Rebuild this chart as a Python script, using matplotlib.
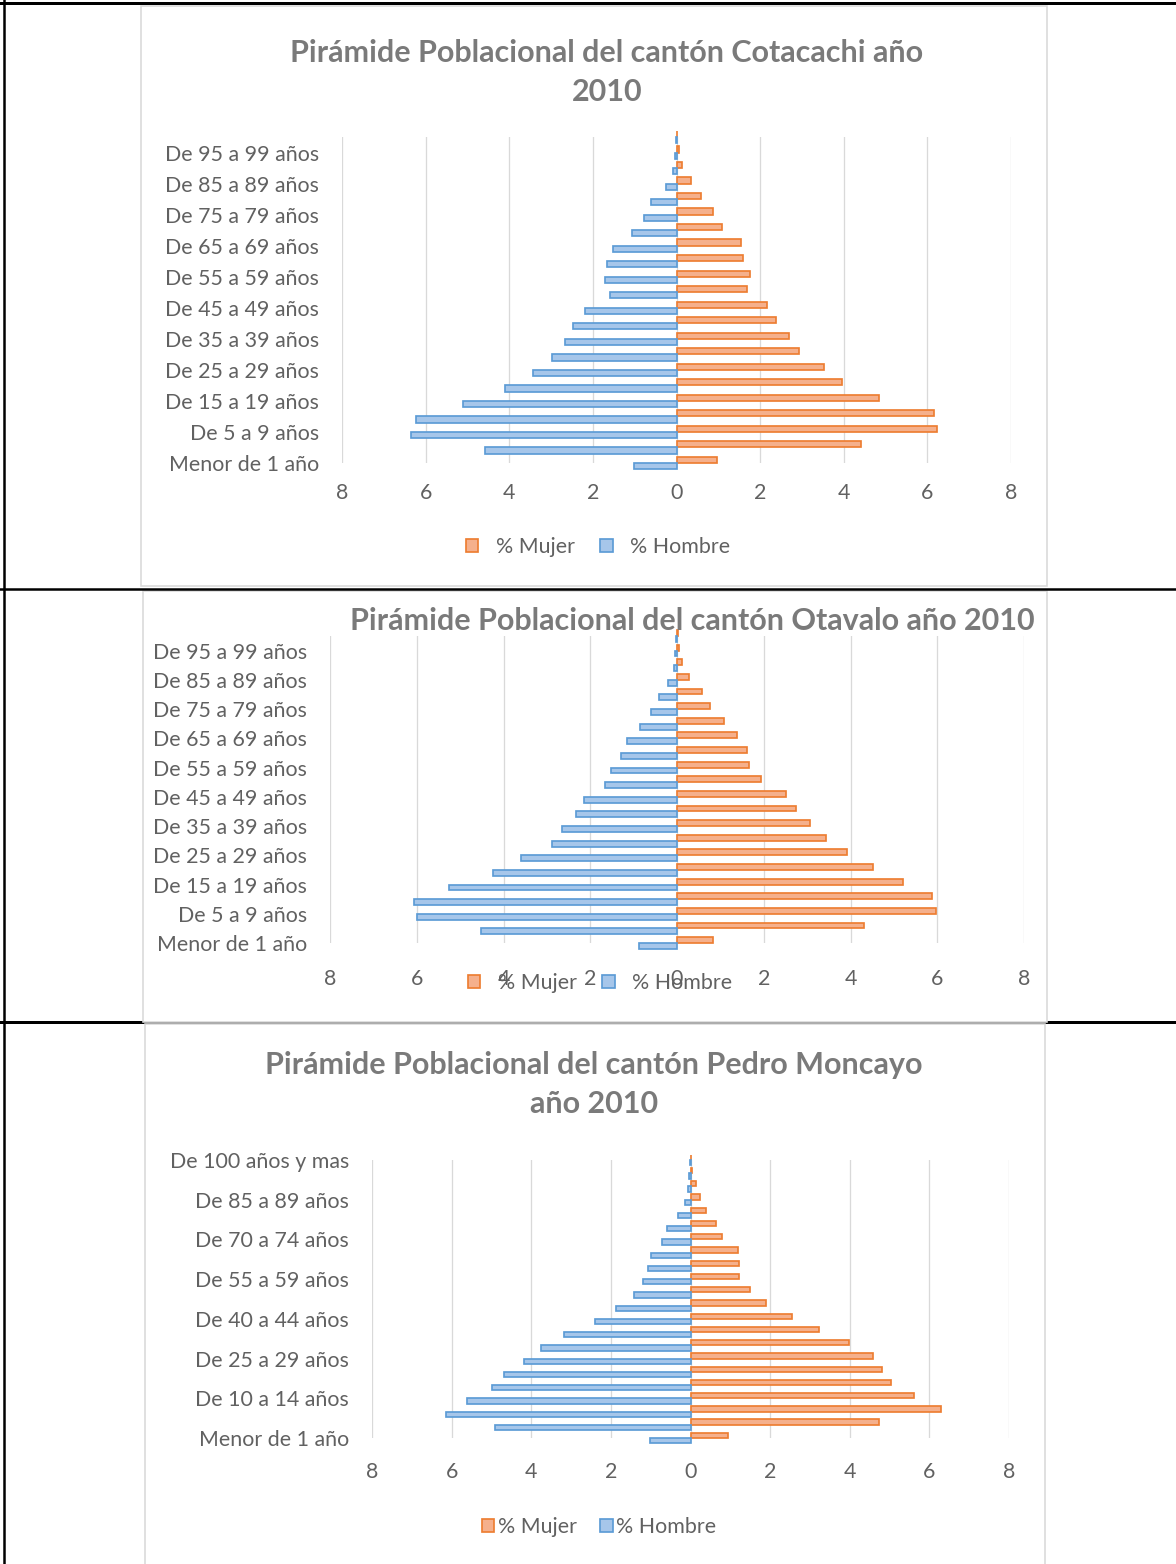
import numpy as np
import matplotlib
matplotlib.use("Agg")
import matplotlib.pyplot as plt
from matplotlib.patches import Rectangle
from matplotlib.lines import Line2D

plt.rcParams["font.family"] = ["Lato", "DejaVu Sans"]

# grupos de edad, de abajo hacia arriba
grupos = [
    "Menor de 1 año", "De 1 a 4 años", "De 5 a 9 años", "De 10 a 14 años",
    "De 15 a 19 años", "De 20 a 24 años", "De 25 a 29 años", "De 30 a 34 años",
    "De 35 a 39 años", "De 40 a 44 años", "De 45 a 49 años", "De 50 a 54 años",
    "De 55 a 59 años", "De 60 a 64 años", "De 65 a 69 años", "De 70 a 74 años",
    "De 75 a 79 años", "De 80 a 84 años", "De 85 a 89 años", "De 90 a 94 años",
    "De 95 a 99 años", "De 100 años y mas",
]

cotacachi_mujer = [0.97, 4.42, 6.23, 6.17, 4.85, 3.95, 3.53, 2.92, 2.70, 2.37, 2.17,
                   1.69, 1.76, 1.59, 1.55, 1.10, 0.87, 0.59, 0.34, 0.13, 0.05, 0.02]
cotacachi_hombre = [1.01, 4.58, 6.34, 6.22, 5.10, 4.09, 3.43, 2.97, 2.67, 2.47, 2.20,
                    1.60, 1.70, 1.66, 1.53, 1.07, 0.78, 0.60, 0.25, 0.09, 0.04, 0.02]

otavalo_mujer = [0.84, 4.30, 5.98, 5.88, 5.22, 4.51, 3.91, 3.44, 3.06, 2.75, 2.52,
                 1.94, 1.65, 1.61, 1.39, 1.08, 0.75, 0.58, 0.28, 0.12, 0.05, 0.02]
otavalo_hombre = [0.87, 4.52, 5.99, 6.07, 5.25, 4.25, 3.59, 2.89, 2.64, 2.33, 2.14,
                  1.66, 1.53, 1.28, 1.15, 0.86, 0.60, 0.41, 0.20, 0.08, 0.05, 0.02]

pedro_mujer = [0.93, 4.74, 6.30, 5.61, 5.04, 4.80, 4.59, 3.99, 3.22, 2.54, 1.90,
               1.49, 1.22, 1.21, 1.19, 0.79, 0.65, 0.40, 0.24, 0.15, 0.04, 0.02]
pedro_hombre = [1.01, 4.91, 6.14, 5.62, 4.98, 4.68, 4.18, 3.75, 3.18, 2.39, 1.87,
                1.41, 1.20, 1.07, 1.00, 0.72, 0.58, 0.32, 0.13, 0.06, 0.03, 0.02]

ticks_x = list(range(-8, 9, 2))

NARANJA = "#ED7D31"
NARANJA_CLARO = "#F5B08C"
AZUL = "#5B9BD5"
AZUL_CLARO = "#A6C6EA"
GRID = "#D9D9D9"
TEXTO = "#616161"
TITULO = "#7A7A7A"

FS = 21.4      # etiquetas, ejes y leyenda
FS_TIT = 30.5  # titulos

W, H = 1176, 1564
fig = plt.figure(figsize=(W / 72, H / 72), dpi=72)


def fx(px):
    return px / W


def fy(py):
    return 1 - py / H


def add_plot(x_left, x_right, y_top, y_bottom):
    return fig.add_axes([fx(x_left), fy(y_bottom),
                         (x_right - x_left) / W, (y_bottom - y_top) / H])


def draw_pyramid(ax, mujer, hombre, step, xpad):
    y = np.arange(len(grupos))
    h = 0.4
    bm = ax.barh(y + h / 2, mujer, height=h, color=NARANJA_CLARO, edgecolor=NARANJA,
                 linewidth=1.7, clip_on=False, zorder=3)
    bh = ax.barh(y - h / 2, -np.array(hombre), height=h, color=AZUL_CLARO,
                 edgecolor=AZUL, linewidth=1.7, clip_on=False, zorder=3)
    ax.set_xlim(-8, 8)
    ax.set_ylim(0, len(grupos) - 1)
    for v in ticks_x:
        ax.axvline(v, color=GRID, lw=1.3, zorder=1)
    ax.set_xticks(ticks_x)
    ax.set_xticklabels([str(abs(v)) for v in ticks_x])
    idx = list(range(0, len(grupos), step))
    ax.set_yticks(idx)
    ax.set_yticklabels([grupos[i] for i in idx])
    ax.tick_params(length=0, labelsize=FS, labelcolor=TEXTO)
    ax.tick_params(axis="x", pad=xpad)
    ax.tick_params(axis="y", pad=23)
    for s in ax.spines.values():
        s.set_visible(False)
    ax.set_facecolor("none")
    return bm, bh


def add_legend(bm, bh, cx, cy, textpad, colspace):
    fig.legend([bm, bh], ["% Mujer", "% Hombre"], loc="center",
               bbox_to_anchor=(fx(cx), fy(cy)), ncol=2, frameon=False,
               fontsize=FS, labelcolor=TEXTO, handlelength=0.6, handleheight=0.6,
               handletextpad=textpad, columnspacing=colspace)


# lineas del documento
fig.add_artist(Line2D([0, 1], [fy(3), fy(3)], color="black", lw=3, zorder=-3))
fig.add_artist(Line2D([fx(4), fx(4)], [0, 1], color="black", lw=2.5, zorder=-3))
fig.add_artist(Line2D([0, 1], [fy(1022), fy(1022)], color="black", lw=3, zorder=-3))

# marcos de los graficos
for x0, x1, y0, y1 in [(141, 1047, 6, 586), (143, 1047, 591, 1022), (145, 1045, 1024, 1570)]:
    fig.add_artist(Rectangle((fx(x0), fy(y1)), (x1 - x0) / W, (y1 - y0) / H,
                             transform=fig.transFigure, facecolor="white",
                             edgecolor=GRID, lw=1.6, zorder=-2))
fig.add_artist(Line2D([0, 1], [fy(589), fy(589)], color="black", lw=2.5, zorder=-1))

# Cotacachi
ax1 = add_plot(342, 1011, 137, 463)
bm, bh = draw_pyramid(ax1, cotacachi_mujer, cotacachi_hombre, 2, 20)
fig.text(fx(607), fy(53), "Pirámide Poblacional del cantón Cotacachi año",
         ha="center", va="center", fontsize=FS_TIT, fontweight="bold", color=TITULO)
fig.text(fx(607), fy(92), "2010", ha="center", va="center", fontsize=FS_TIT,
         fontweight="bold", color=TITULO)
add_legend(bm, bh, 598, 547, 0.8, 1.2)

# Otavalo
ax2 = add_plot(330, 1024, 636, 943)
bm, bh = draw_pyramid(ax2, otavalo_mujer, otavalo_hombre, 2, 26)
fig.text(fx(692), fy(621), "Pirámide Poblacional del cantón Otavalo año 2010",
         ha="center", va="center", fontsize=FS_TIT, fontweight="bold", color=TITULO)
add_legend(bm, bh, 600, 983, 0.8, 1.2)

# Pedro Moncayo
ax3 = add_plot(372, 1009, 1160, 1438)
bm, bh = draw_pyramid(ax3, pedro_mujer, pedro_hombre, 3, 24)
fig.text(fx(594), fy(1065), "Pirámide Poblacional del cantón Pedro Moncayo",
         ha="center", va="center", fontsize=FS_TIT, fontweight="bold", color=TITULO)
fig.text(fx(594), fy(1104), "año 2010", ha="center", va="center", fontsize=FS_TIT,
         fontweight="bold", color=TITULO)
add_legend(bm, bh, 599, 1527, 0.15, 1.1)

fig.savefig("out.png", dpi=72)
